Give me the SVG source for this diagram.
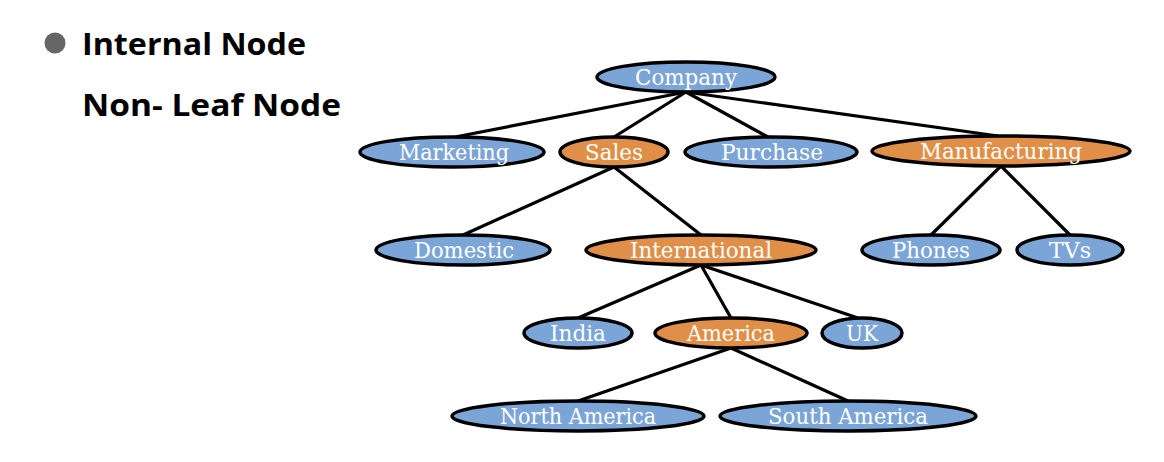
<svg xmlns="http://www.w3.org/2000/svg" width="1164" height="462" viewBox="0 0 1164 462">
<style>
.h{font-family:"Open Sans","Liberation Sans",sans-serif;font-weight:bold;font-size:31px;fill:#000}
.n ellipse{stroke:#000;stroke-width:3.5}
.b{fill:#7BA5D6}
.o{fill:#E08F48}
.n text{font-family:"DejaVu Serif","Liberation Serif",serif;font-size:22px;fill:#fff;text-anchor:middle}
#edges line{stroke:#000;stroke-width:3.2}
</style>
<rect width="1164" height="462" fill="#fff"/>
<circle cx="55" cy="43" r="10.5" fill="#666"/>
<text class="h" x="82" y="55" textLength="224" lengthAdjust="spacingAndGlyphs">Internal Node</text>
<text class="h" x="82" y="116" textLength="259" lengthAdjust="spacingAndGlyphs">Non- Leaf Node</text>
<g id="edges">
<line x1="686" y1="92" x2="455" y2="137"/>
<line x1="686" y1="92" x2="614" y2="137"/>
<line x1="686" y1="92" x2="768" y2="137"/>
<line x1="686" y1="92" x2="998" y2="136"/>
<line x1="614" y1="167" x2="463" y2="235"/>
<line x1="614" y1="167" x2="701" y2="235"/>
<line x1="1001" y1="166" x2="931" y2="235"/>
<line x1="1001" y1="166" x2="1070" y2="235"/>
<line x1="701" y1="265" x2="578" y2="318"/>
<line x1="701" y1="265" x2="731" y2="318"/>
<line x1="701" y1="265" x2="858" y2="318"/>
<line x1="731" y1="348" x2="578" y2="401"/>
<line x1="731" y1="348" x2="848" y2="401"/>
</g>
<g id="company" class="n"><ellipse class="b" cx="686" cy="77" rx="89" ry="15"/><text x="686" y="84.5" textLength="102" lengthAdjust="spacingAndGlyphs">Company</text></g>
<g id="marketing" class="n"><ellipse class="b" cx="452" cy="152" rx="92" ry="15"/><text x="454" y="159.5" textLength="110" lengthAdjust="spacingAndGlyphs">Marketing</text></g>
<g id="sales" class="n"><ellipse class="o" cx="614" cy="152" rx="54" ry="15"/><text x="614" y="159.5" textLength="58" lengthAdjust="spacingAndGlyphs">Sales</text></g>
<g id="purchase" class="n"><ellipse class="b" cx="771" cy="152" rx="86" ry="15"/><text x="772" y="159.5" textLength="102" lengthAdjust="spacingAndGlyphs">Purchase</text></g>
<g id="manufacturing" class="n"><ellipse class="o" cx="1001" cy="151" rx="129" ry="15"/><text x="1001" y="158.5" textLength="162" lengthAdjust="spacingAndGlyphs">Manufacturing</text></g>
<g id="domestic" class="n"><ellipse class="b" cx="463" cy="250" rx="87" ry="15"/><text x="464" y="257.5" textLength="100" lengthAdjust="spacingAndGlyphs">Domestic</text></g>
<g id="international" class="n"><ellipse class="o" cx="701" cy="250" rx="115" ry="15"/><text x="701" y="257.5" textLength="142" lengthAdjust="spacingAndGlyphs">International</text></g>
<g id="phones" class="n"><ellipse class="b" cx="931" cy="250" rx="69" ry="15"/><text x="931" y="257.5" textLength="78" lengthAdjust="spacingAndGlyphs">Phones</text></g>
<g id="tvs" class="n"><ellipse class="b" cx="1070" cy="250" rx="53" ry="15"/><text x="1070" y="257.5" textLength="42" lengthAdjust="spacingAndGlyphs">TVs</text></g>
<g id="india" class="n"><ellipse class="b" cx="578" cy="333" rx="54" ry="15"/><text x="578" y="340.5" textLength="56" lengthAdjust="spacingAndGlyphs">India</text></g>
<g id="america" class="n"><ellipse class="o" cx="731" cy="333" rx="76" ry="15"/><text x="731" y="340.5" textLength="88" lengthAdjust="spacingAndGlyphs">America</text></g>
<g id="uk" class="n"><ellipse class="b" cx="862" cy="333" rx="40" ry="15"/><text x="862" y="340.5" textLength="32" lengthAdjust="spacingAndGlyphs">UK</text></g>
<g id="north-america" class="n"><ellipse class="b" cx="578" cy="416" rx="126" ry="15"/><text x="578" y="423.5" textLength="156" lengthAdjust="spacingAndGlyphs">North America</text></g>
<g id="south-america" class="n"><ellipse class="b" cx="848" cy="416" rx="128" ry="15"/><text x="848" y="423.5" textLength="160" lengthAdjust="spacingAndGlyphs">South America</text></g>
</svg>
